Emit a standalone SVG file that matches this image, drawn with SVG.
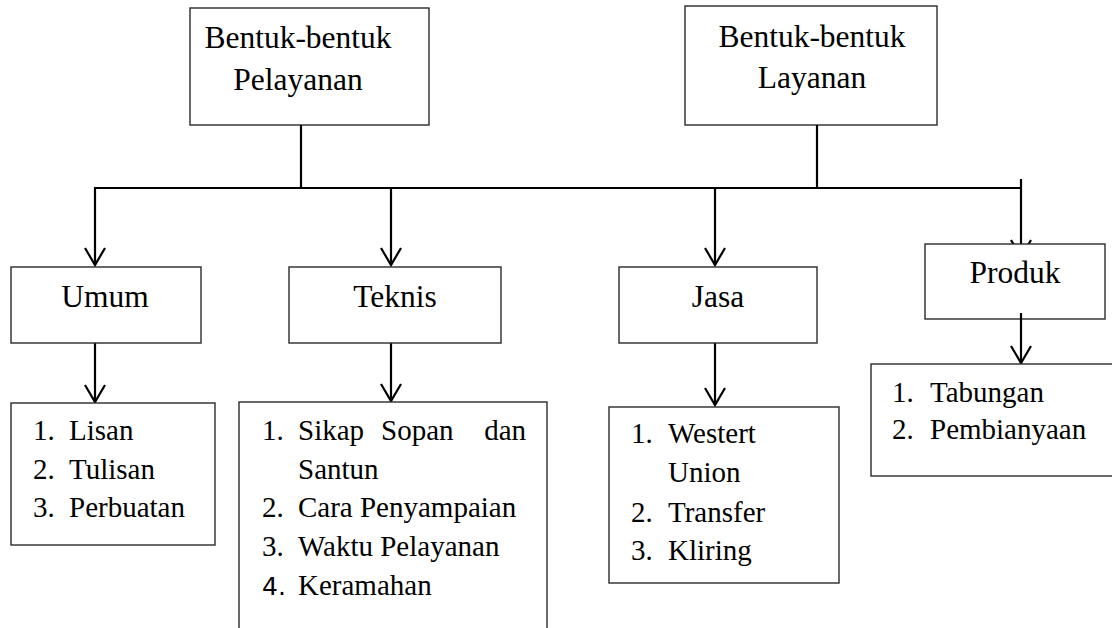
<svg xmlns="http://www.w3.org/2000/svg" width="1112" height="628" viewBox="0 0 1112 628">
  <style>
    .box { fill: #ffffff; stroke: #2a2a2a; stroke-width: 1.4; }
    .wire { fill: none; stroke: #000000; stroke-width: 2.2; }
    text { font-family: 'Liberation Serif', 'Times New Roman', 'DejaVu Serif', serif; fill: #000000; }
    .head { font-size: 31.5px; text-anchor: middle; }
    .item { font-size: 29px; }
    .sans { font-family: 'DejaVu Sans', 'Liberation Sans', sans-serif; font-size: 25px; }
  </style>
  <defs>
    <!-- open V arrowhead, drawn along +x so orient="auto" turns it with the line -->
    <marker id="vee" viewBox="-19 -12 22 24" markerWidth="22" markerHeight="24" refX="0" refY="0" orient="auto" markerUnits="userSpaceOnUse">
      <path d="M -17 -10 L 0 0 L -17 10" fill="none" stroke="#000" stroke-width="2.2"/>
    </marker>
  </defs>

  <!-- top-level categories -->
  <g id="node-pelayanan">
    <rect class="box" x="190" y="8" width="239" height="117"/>
    <text class="head" x="298" y="48">Bentuk-bentuk</text>
    <text class="head" x="298" y="90">Pelayanan</text>
  </g>
  <g id="node-layanan">
    <rect class="box" x="685" y="6" width="252" height="119"/>
    <text class="head" x="812" y="47">Bentuk-bentuk</text>
    <text class="head" x="812" y="88">Layanan</text>
  </g>

  <!-- connectors: trunk, bus and drops to each group -->
  <g id="connectors">
    <path class="wire" d="M 301 125 V 188"/>
    <path class="wire" d="M 817 125 V 188"/>
    <path class="wire" d="M 94 188 H 1022"/>
    <path class="wire" d="M 95 188 V 265" marker-end="url(#vee)"/>
    <path class="wire" d="M 391 188 V 265" marker-end="url(#vee)"/>
    <path class="wire" d="M 715 188 V 265" marker-end="url(#vee)"/>
    <path class="wire" d="M 1021 179 V 257" marker-end="url(#vee)"/>
    <path class="wire" d="M 95 343 V 402" marker-end="url(#vee)"/>
    <path class="wire" d="M 391 343 V 401" marker-end="url(#vee)"/>
    <path class="wire" d="M 715 343 V 405" marker-end="url(#vee)"/>
  </g>

  <!-- second level -->
  <g id="node-umum">
    <rect class="box" x="11" y="267" width="190" height="76"/>
    <text class="head" x="105" y="307">Umum</text>
  </g>
  <g id="node-teknis">
    <rect class="box" x="289" y="267" width="212" height="76"/>
    <text class="head" x="395" y="307">Teknis</text>
  </g>
  <g id="node-jasa">
    <rect class="box" x="619" y="267" width="198" height="76"/>
    <text class="head" x="718" y="307">Jasa</text>
  </g>
  <g id="node-produk">
    <rect class="box" x="925" y="244" width="180" height="75"/>
    <text class="head" x="1015" y="283">Produk</text>
    <path class="wire" d="M 1021 313 V 363" marker-end="url(#vee)"/>
  </g>

  <!-- detail lists -->
  <g id="list-umum">
    <rect class="box" x="11" y="403" width="204" height="142"/>
    <text class="item" x="33" y="440">1.</text><text class="item" x="69" y="440">Lisan</text>
    <text class="item" x="33" y="479">2.</text><text class="item" x="69" y="479">Tulisan</text>
    <text class="item" x="33" y="517">3.</text><text class="item" x="69" y="517">Perbuatan</text>
  </g>
  <g id="list-teknis">
    <rect class="box" x="239" y="402" width="308" height="240"/>
    <text class="item" x="262" y="440">1.</text>
    <text class="item" x="298" y="440">Sikap</text>
    <text class="item" x="381" y="440">Sopan</text>
    <text class="item" x="526" y="440" text-anchor="end">dan</text>
    <text class="item" x="298" y="479">Santun</text>
    <text class="item" x="262" y="517">2.</text><text class="item" x="298" y="517">Cara Penyampaian</text>
    <text class="item" x="262" y="556">3.</text><text class="item" x="298" y="556">Waktu Pelayanan</text>
    <text class="item sans" x="262" y="595">4.</text><text class="item" x="298" y="595">Keramahan</text>
  </g>
  <g id="list-jasa">
    <rect class="box" x="609" y="407" width="230" height="176"/>
    <text class="item" x="631" y="443">1.</text><text class="item" x="668" y="443">Westert</text>
    <text class="item" x="668" y="482">Union</text>
    <text class="item" x="631" y="522">2.</text><text class="item" x="668" y="522">Transfer</text>
    <text class="item" x="631" y="560">3.</text><text class="item" x="668" y="560">Kliring</text>
  </g>
  <g id="list-produk">
    <rect class="box" x="871" y="364" width="250" height="112"/>
    <text class="item" x="892" y="402">1.</text><text class="item" x="930" y="402">Tabungan</text>
    <text class="item" x="892" y="439">2.</text><text class="item" x="930" y="439">Pembianyaan</text>
  </g>
</svg>
